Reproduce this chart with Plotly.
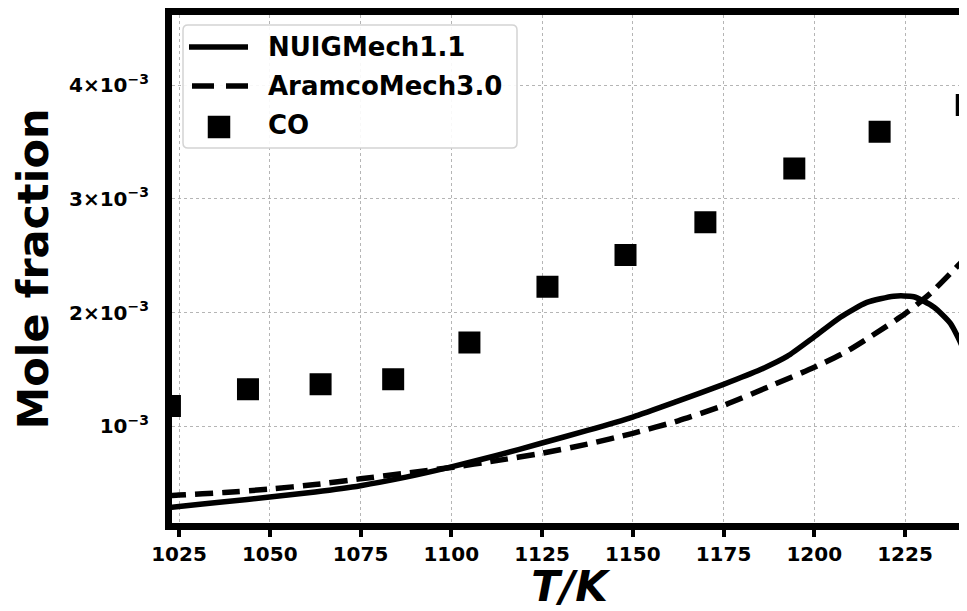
import plotly.graph_objects as go

# ---- data ----
co_T = [1022.5, 1044, 1064, 1084, 1105, 1126.5, 1148, 1170, 1194.5, 1218, 1242]
co_X = [1.179e-3, 1.327e-3, 1.371e-3, 1.415e-3, 1.738e-3, 2.227e-3, 2.507e-3,
        2.795e-3, 3.266e-3, 3.59e-3, 3.825e-3]

nuig_T = [1022, 1025, 1037.5, 1050, 1062.5, 1075, 1087.5, 1100, 1112.5, 1125,
          1137.5, 1150, 1162, 1175, 1185.2, 1192.5, 1199.9, 1207.2, 1214.5,
          1221.9, 1227.4, 1232.9, 1237.5, 1241.2, 1242]
nuig_X = [0.288e-3, 0.297e-3, 0.338e-3, 0.38e-3, 0.425e-3, 0.48e-3, 0.555e-3,
          0.645e-3, 0.745e-3, 0.855e-3, 0.965e-3, 1.083e-3, 1.218e-3, 1.37e-3,
          1.50e-3, 1.615e-3, 1.785e-3, 1.96e-3, 2.09e-3, 2.145e-3, 2.14e-3,
          2.05e-3, 1.906e-3, 1.67e-3, 1.58e-3]

aramco_T = [1022, 1025, 1037.5, 1050, 1062.5, 1075, 1087.5, 1100, 1112.5, 1125,
            1137.5, 1150, 1162.5, 1175, 1187.5, 1200, 1208.3, 1216.5, 1225,
            1232, 1239.5, 1242]
aramco_X = [0.39e-3, 0.397e-3, 0.42e-3, 0.45e-3, 0.49e-3, 0.54e-3, 0.59e-3,
            0.64e-3, 0.70e-3, 0.765e-3, 0.845e-3, 0.94e-3, 1.05e-3, 1.185e-3,
            1.35e-3, 1.52e-3, 1.648e-3, 1.81e-3, 1.99e-3, 2.17e-3, 2.41e-3, 2.49e-3]

x_ticks = [1025, 1050, 1075, 1100, 1125, 1150, 1175, 1200, 1225]
y_ticks = [1e-3, 2e-3, 3e-3, 4e-3]
y_ticktext = ["10<sup>−3</sup>", "2×10<sup>−3</sup>", "3×10<sup>−3</sup>", "4×10<sup>−3</sup>"]

legend_names = ["NUIGMech1.1", "AramcoMech3.0", "CO"]

FONT = "DejaVu Sans"

# page geometry (the html body adds an 8px margin)
W, H = 959, 603
ML, MT, MB = 164, 7, 88
PW = W - ML
PH = H - MT - MB


def px(x):  # page px -> paper x
    return (x - 8 - ML) / PW


def py(y):  # page px -> paper y
    return (H - MB - (y - 8)) / PH


fig = go.Figure()
fig.add_trace(go.Scatter(
    x=nuig_T, y=nuig_X, mode="lines", name=legend_names[0], showlegend=False,
    line=dict(color="black", width=5.5, shape="spline", smoothing=0.6)))
fig.add_trace(go.Scatter(
    x=aramco_T, y=aramco_X, mode="lines", name=legend_names[1], showlegend=False,
    line=dict(color="black", width=5.5, dash="18px,9px", shape="spline", smoothing=0.6)))
fig.add_trace(go.Scatter(
    x=co_T, y=co_X, mode="markers", name=legend_names[2], showlegend=False,
    marker=dict(symbol="square", size=19, color="black",
                line=dict(color="black", width=3))))

# ---- legend drawn as shapes/annotations ----
x0, x1, y0, y1 = px(183), px(517), py(25), py(148)
rx, ry = 5 / PW, 5 / PH
box = (f"M {x0+rx},{y0} L {x1-rx},{y0} Q {x1},{y0} {x1},{y0-ry} "
       f"L {x1},{y1+ry} Q {x1},{y1} {x1-rx},{y1} L {x0+rx},{y1} "
       f"Q {x0},{y1} {x0},{y1+ry} L {x0},{y0-ry} Q {x0},{y0} {x0+rx},{y0} Z")
shapes = [
    dict(type="path", path=box, xref="paper", yref="paper", layer="above",
         fillcolor="rgba(255,255,255,0.9)", line=dict(color="#d4d4d4", width=1.5)),
    dict(type="line", xref="paper", yref="paper", layer="above",
         x0=px(189), x1=px(248), y0=py(47), y1=py(47),
         line=dict(color="black", width=5.5)),
    dict(type="line", xref="paper", yref="paper", layer="above",
         x0=px(192), x1=px(248), y0=py(86), y1=py(86),
         line=dict(color="black", width=5.5, dash="22px,12px")),
    dict(type="rect", xref="paper", yref="paper", layer="above",
         x0=px(208.5), x1=px(229.5), y0=py(116.5), y1=py(137.5),
         fillcolor="black", line=dict(color="black", width=1.5)),
]
annotations = []
for name, yy in zip(legend_names, [47, 86, 125]):
    annotations.append(dict(
        text=name, x=px(266), y=py(yy), xref="paper", yref="paper",
        xanchor="left", yanchor="middle", showarrow=False,
        font=dict(family=FONT, size=26, color="black", weight="bold")))

fig.update_layout(
    width=W, height=H,
    margin=dict(l=ML, r=0, t=MT, b=MB),
    paper_bgcolor="white", plot_bgcolor="white",
    font=dict(family=FONT, color="black"),
    showlegend=False,
    shapes=shapes, annotations=annotations,
    xaxis=dict(
        range=[1023.07, 1242.07], tickmode="array", tickvals=x_ticks,
        showline=True, linecolor="black", linewidth=7, mirror=True,
        ticks="outside", ticklen=7, tickwidth=4, tickcolor="black",
        tickfont=dict(family=FONT, size=20, weight="bold"),
        showgrid=True, gridcolor="#b5b5b5", gridwidth=1.2, griddash="dot",
        zeroline=False,
        title=dict(text="T/K", standoff=10,
                   font=dict(family=FONT, size=42, weight="bold", style="italic")),
    ),
    yaxis=dict(
        range=[0.152e-3, 4.615e-3], tickmode="array", tickvals=y_ticks,
        ticktext=y_ticktext,
        showline=True, linecolor="black", linewidth=7, mirror=False,
        ticks="", ticklabelstandoff=12,
        tickfont=dict(family=FONT, size=20, weight="bold"),
        showgrid=True, gridcolor="#b5b5b5", gridwidth=1.2, griddash="dot",
        zeroline=False,
        title=dict(text="Mole fraction", standoff=20,
                   font=dict(family=FONT, size=43, weight="bold")),
    ),
)

fig.write_html("out.html")
